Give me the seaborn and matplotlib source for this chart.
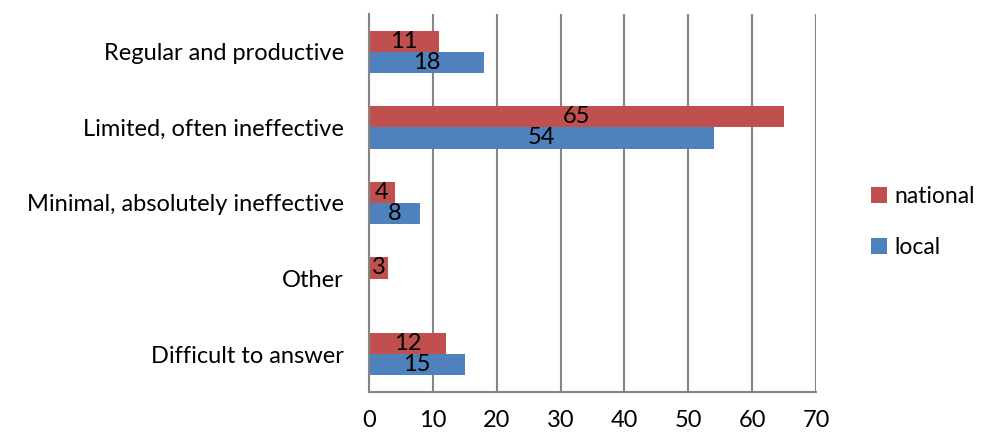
import numpy as np
import pandas as pd
import matplotlib
matplotlib.use("Agg")
import matplotlib.pyplot as plt
import seaborn as sns

# =====================================================
# Data
# =====================================================
categories = [
    "Regular and productive",
    "Limited, often ineffective",
    "Minimal, absolutely ineffective",
    "Other",
    "Difficult to answer",
]
national = [11, 65, 4, 3, 12]
local = [18, 54, 8, np.nan, 15]
series = ["national", "local"]
colors = {"national": "#C0504D", "local": "#4F81BD"}

df = pd.DataFrame({
    "category": categories * 2,
    "value": national + local,
    "series": ["national"] * len(categories) + ["local"] * len(categories),
})

# =====================================================
# Plot
# =====================================================
sns.set_style("white")
plt.rcParams["font.family"] = ["Lato", "DejaVu Sans"]
plt.rcParams["text.color"] = "black"
plt.rcParams["xtick.labelcolor"] = "black"
plt.rcParams["ytick.labelcolor"] = "black"

FS = 17

fig = plt.figure(figsize=(9.82, 4.36), dpi=100)
ax = fig.add_axes([0.3758, 0.101, 0.4552, 0.867])

sns.barplot(
    data=df, x="value", y="category", hue="series", hue_order=series,
    order=categories, palette=colors, orient="h", width=0.56,
    saturation=1, linewidth=0, ax=ax, legend=True,
)

for cont in ax.containers:
    labels = [("" if np.isnan(v) else f"{v:g}") for v in cont.datavalues]
    ax.bar_label(cont, labels=labels, label_type="center", fontsize=FS, color="black")

ax.set_xlim(0, 70)
ax.set_xticks(range(0, 71, 10))
ax.set_ylim(4.5, -0.5)
ax.set_yticks(range(len(categories)))
ax.set_yticklabels(categories)
ax.set_yticks(np.arange(-0.5, len(categories), 1), minor=True)
ax.tick_params(axis="y", which="major", length=0, pad=18, labelsize=FS)
ax.tick_params(axis="y", which="minor", length=7, width=1.5, color="#868686", direction="out")
ax.tick_params(axis="x", which="major", length=7, width=1.5, color="#868686",
               direction="out", labelsize=FS, pad=6)
ax.set_xlabel("")
ax.set_ylabel("")

ax.grid(axis="x", color="#868686", linewidth=1.5)
ax.set_axisbelow(True)
for side in ["top", "right"]:
    ax.spines[side].set_visible(False)
for side in ["left", "bottom"]:
    ax.spines[side].set_color("#868686")
    ax.spines[side].set_linewidth(1.5)

handles, labels = ax.get_legend_handles_labels()
ax.legend(handles, labels, loc="center left", bbox_to_anchor=(0.887, 0.49),
          bbox_transform=fig.transFigure, frameon=False, fontsize=16.5,
          borderpad=0, borderaxespad=0,
          handlelength=0.7, handleheight=0.7, handletextpad=0.3, labelspacing=1.3)

fig.savefig("out.png", dpi=100)
